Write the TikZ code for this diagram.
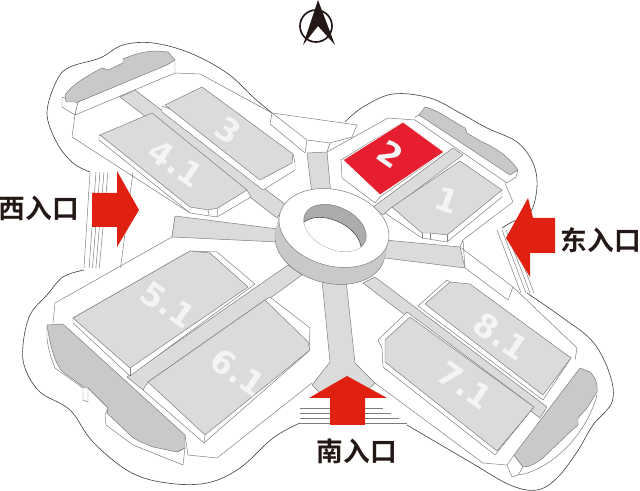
\documentclass[tikz,border=0pt]{standalone}
\usepackage{fontspec}
\usepackage{xcolor}
\setmainfont{DejaVu Sans}
\newfontfamily\cjkbold[BoldFont={Noto Sans CJK SC Bold}]{Noto Sans CJK SC}
\definecolor{hallgray}{RGB}{218,220,219}
\definecolor{plazagray}{RGB}{200,201,201}
\definecolor{holegray}{RGB}{172,172,172}
\definecolor{edgegray}{RGB}{125,125,125}
\definecolor{outerline}{RGB}{70,70,70}
\definecolor{hallred}{RGB}{230,30,48}
\definecolor{gatered}{RGB}{224,32,16}
\definecolor{compass}{RGB}{35,24,21}
\definecolor{hallnumber}{RGB}{244,244,244}
\tikzset{
  edge/.style={draw=edgegray,line width=0.35pt,line join=round},
  walk/.style={edge,fill=hallgray},
  lobe/.style={edge,fill=plazagray},
  wall/.style={edge,fill=white},
  outer/.style={draw=outerline,line width=0.45pt},
  gate/.style={fill=gatered},
  hallno/.style={text=hallnumber,font=\bfseries\fontsize{23}{23}\selectfont,rotate=-35,inner sep=0pt},
  gatename/.style={text=compass,font=\cjkbold\bfseries\fontsize{19}{19}\selectfont,inner sep=0pt}
}

\begin{document}
\begin{tikzpicture}[x=0.025cm,y=-0.025cm]
  \useasboundingbox (0,0) rectangle (640,491);
  % outer boundary
  \draw[outer] plot[smooth,tension=0.6] coordinates{(90,172) (73,163) (57,143) (47,113) (57,80) (70,67) (100,58) (123,45) (153,43) (190,53) (227,73) (253,97) (272,113)};
  \draw[outer] plot[smooth,tension=0.6] coordinates{(345,122) (363,107) (393,94) (430,98) (460,113) (487,128) (517,142) (533,163) (537,187) (530,213) (512,222) (502,228)};
  \draw[outer] plot[smooth,tension=0.6] coordinates{(527,293) (563,318) (593,342) (610,375) (612,402) (593,425) (577,452) (557,478) (537,490) (510,485) (470,462) (407,425)};
  \draw[outer] plot[smooth,tension=0.6] coordinates{(300,423) (273,438) (240,468) (207,483) (167,483) (130,472) (93,442) (70,410) (40,392) (25,368) (23,345) (30,315) (47,295) (63,277) (84,270)};
  % steps at the three gates
  \foreach \s in {0,6,10,14,18,43}
    \draw[edge] (90+\s,172)--(84+0.85*\s,268);
  \foreach \s in {0,5,10,15}
    \draw[edge] (300,408+\s)--(383+1.6*\s,408+\s);
  \foreach \s in {0,5,9,13}
    \draw[edge] (497+\s,230)--(521+\s,293);
  % roofs and platform edges
  \draw[edge] (75,115)--(72,137)--(190,213);
  \draw[edge] (175,73)--(200,74)--(272,113)--(270,124)--(305,153);
  \draw[edge] (272,113)--(357,125)--(352,137)--(330,143)--(327,152);
  \draw[edge] (272,113)--(307,140)--(305,153);
  \draw[edge] (307,140)--(330,143);
  \draw[edge] (327,152)--(388,118)--(415,120);
  \draw[edge] (505,183)--(513,202)--(493,217)--(463,240)--(465,268)--(508,300)--(513,287)--(460,247)--(463,240);
  \draw[edge] (513,287)--(577,348)--(575,360);
  \draw[edge] (175,217)--(172,237)--(55,303)--(53,323);
  \draw[edge] (375,383)--(483,463)--(507,465);
  \draw[edge] (188,455)--(217,458)--(312,383);
  % walkways
  \draw[walk] (307,153)--(327,152)--(331,195)--(312,195)--cycle;
  \draw[walk] (120,97)--(135,90)--(286,205)--(277,218)--cycle;
  \draw[walk] (175,216)--(278,229)--(278,242)--(172,237)--cycle;
  \draw[walk] (373,207)--(453,148)--(463,155)--(383,215)--cycle;
  \draw[walk] (385,240)--(460,247)--(465,268)--(385,258)--cycle;
  \draw[walk] (363,283)--(375,277)--(547,407)--(540,418)--cycle;
  \draw[walk] (288,265)--(302,275)--(143,390)--(127,377)--cycle;
  \draw[walk] (322,280)--(346,280)--(355,363)--(375,383)--(362,395)--(322,395)--(312,385)--(330,362)--cycle;
  % plaza lobes
  \draw[wall] (62,97)--(62,107)--(75,115)--(78,103)--cycle;
  \draw[wall] (78,102)--(75,115)--(175,73)--(175,60)--cycle;
  \draw[lobe] (65,95) .. controls (72,85) and (85,77) .. (102,68)--(108,70)--(123,63)--(123,59) .. controls (135,54) and (145,51) .. (157,51)--(168,52)--(175,60)--(167,65)--(78,102)--(66,102)--cycle;
  \draw[wall] (415,117)--(415,120)--(507,183)--(516,177)--(518,170)--(419,115)--cycle;
  \draw[lobe] (419,115)--(425,107) .. controls (438,110) and (450,120) .. (465,128)--(467,133)--(482,142) .. controls (495,147) and (510,158) .. (518,170)--(510,175)--cycle;
  \draw[wall] (514,455)--(507,465)--(512,477)--(518,475)--(523,467)--cycle;
  \draw[edge] (518,475) .. controls (545,472) and (585,440) .. (597,395);
  \draw[lobe] (580,368)--(590,372) .. controls (596,378) and (598,385) .. (597,392)--(587,408)--(578,418)--(578,425)--(570,432)--(543,458) .. controls (535,464) and (530,467) .. (523,467)--(514,455)--cycle;
  \draw[wall] (47,325)--(47,338) .. controls (48,350) and (52,360) .. (55,368)--(83,388)--(83,400)--(88,402)--(88,388)--(108,408)--(105,415)--(106,425)--(133,445)--(183,465)--(185,448)--(177,452)--cycle;
  \draw[lobe] (47,325)--(63,324)--(185,435)--(185,448)--(177,452)--(153,447) .. controls (143,443) and (135,440) .. (130,435)--(107,413)--(108,408)--(88,388)--(85,388)--(63,372) .. controls (55,365) and (50,345) .. (47,325)--cycle;
  \draw[edge] (185,435)--(188,455);
  % halls
  \draw[wall] (162,106)--(162,112)--(263,190)--(295,170)--(295,163)--(293,154)--cycle;
  \draw[walk] (165,105)--(202,87)--(293,154)--(292,163)--(260,180)--cycle;
  \draw[wall] (99,135)--(99,140)--(190,213)--(217,217)--(251,197)--(247,190)--cycle;
  \draw[walk] (100,135)--(152,113)--(247,190)--(218,208)--(208,210)--(190,207)--cycle;
  \draw[edge] (190,207)--(190,213) (208,210)--(209,215) (218,208)--(217,217);
  \draw[wall] (341,160)--(342,178)--(375,203)--(380,197)--(444,152)--(403,122)--cycle;
  \draw[fill=hallred,draw=white,line width=0.5pt] (343,160)--(403,122)--(444,152)--(380,195)--cycle;
  \draw[wall] (392,207)--(385,213)--(422,238)--(447,242)--(502,197)--(502,190)--cycle;
  \draw[walk] (392,207)--(460,161)--(502,190)--(447,235)--(430,233)--(422,233)--cycle;
  \draw[edge] (422,233)--(422,238) (430,233)--(430,239) (447,235)--(447,242);
  \draw[wall] (418,306)--(447,280)--(571,358)--(543,400)--cycle;
  \draw[walk] (425,304)--(450,282)--(470,284)--(571,358)--(543,395)--cycle;
  \draw[wall] (378,340)--(407,312)--(534,407)--(495,455)--(383,367)--(382,348)--cycle;
  \draw[walk] (385,340)--(410,317)--(534,407)--(497,451)--(385,362)--cycle;
  \draw[wall] (73,318)--(73,323)--(130,376)--(255,284)--(217,252)--(190,251)--cycle;
  \draw[walk] (73,318)--(190,251)--(210,253)--(248,287)--(130,368)--cycle;
  \draw[edge] (130,368)--(130,376);
  \draw[wall] (148,382)--(143,390)--(204,443)--(309,351)--(310,328)--(270,297)--(265,300)--cycle;
  \draw[walk] (148,382)--(265,300)--(308,342)--(310,350)--(205,435)--cycle;
  \draw[edge] (205,435)--(204,443);
  % central ring
  \draw[edge,fill=plazagray] (330,245) ellipse [x radius=56,y radius=38,rotate=-15];
  \foreach \s in {0,1,...,15}
    \fill[plazagray] (334-\s*0.25,228+\s) ellipse [x radius=56,y radius=38,rotate=-15];
  \draw[edge,fill=white] (334,228) ellipse [x radius=56,y radius=38,rotate=-15];
  \draw[edge,fill=holegray] (335,228) ellipse [x radius=33,y radius=21,rotate=-25];
  \begin{scope}
    \clip (335,228) ellipse [x radius=33,y radius=21,rotate=-25];
    \draw[fill=white,draw=outerline,line width=0.4pt] (330,241) ellipse [x radius=33,y radius=21,rotate=-25];
  \end{scope}
  % gate arrows
  \fill[gate] (92,193)--(117,193)--(117,171)--(139,210)--(117,247)--(117,227)--(92,227)--cycle;
  \fill[gate] (555,218)--(533,218)--(528,198)--(506,238)--(530,277)--(530,253)--(555,253)--cycle;
  \fill[gate] (330,425)--(330,398)--(309,398)--(347,376)--(387,398)--(365,398)--(365,425)--cycle;
  % compass
  \draw[compass,line width=1.2pt] (316,26) circle (16);
  \fill[compass] (318,0)--(335,45)--(318,26)--(303,45)--cycle;
  % labels
  \node[hallno] (hallthree) at (228,130) {3};
  \node[hallno] (hallfour) at (176,163) {4.1};
  \node[hallno] (halltwo) at (391,154) {2};
  \node[hallno,rotate=15] (hallone) at (447,200) {1};
  \node[hallno] (hallfive) at (168,305) {5.1};
  \node[hallno] (hallsix) at (238,372) {6.1};
  \node[hallno] (hallseven) at (465,385) {7.1};
  \node[hallno] (halleight) at (501,336) {8.1};
  \node[gatename] (westgate) at (39,208) {西入口};
  \node[gatename] (eastgate) at (601,240) {东入口};
  \node[gatename] (southgate) at (357,451) {南入口};
\end{tikzpicture}
\end{document}
